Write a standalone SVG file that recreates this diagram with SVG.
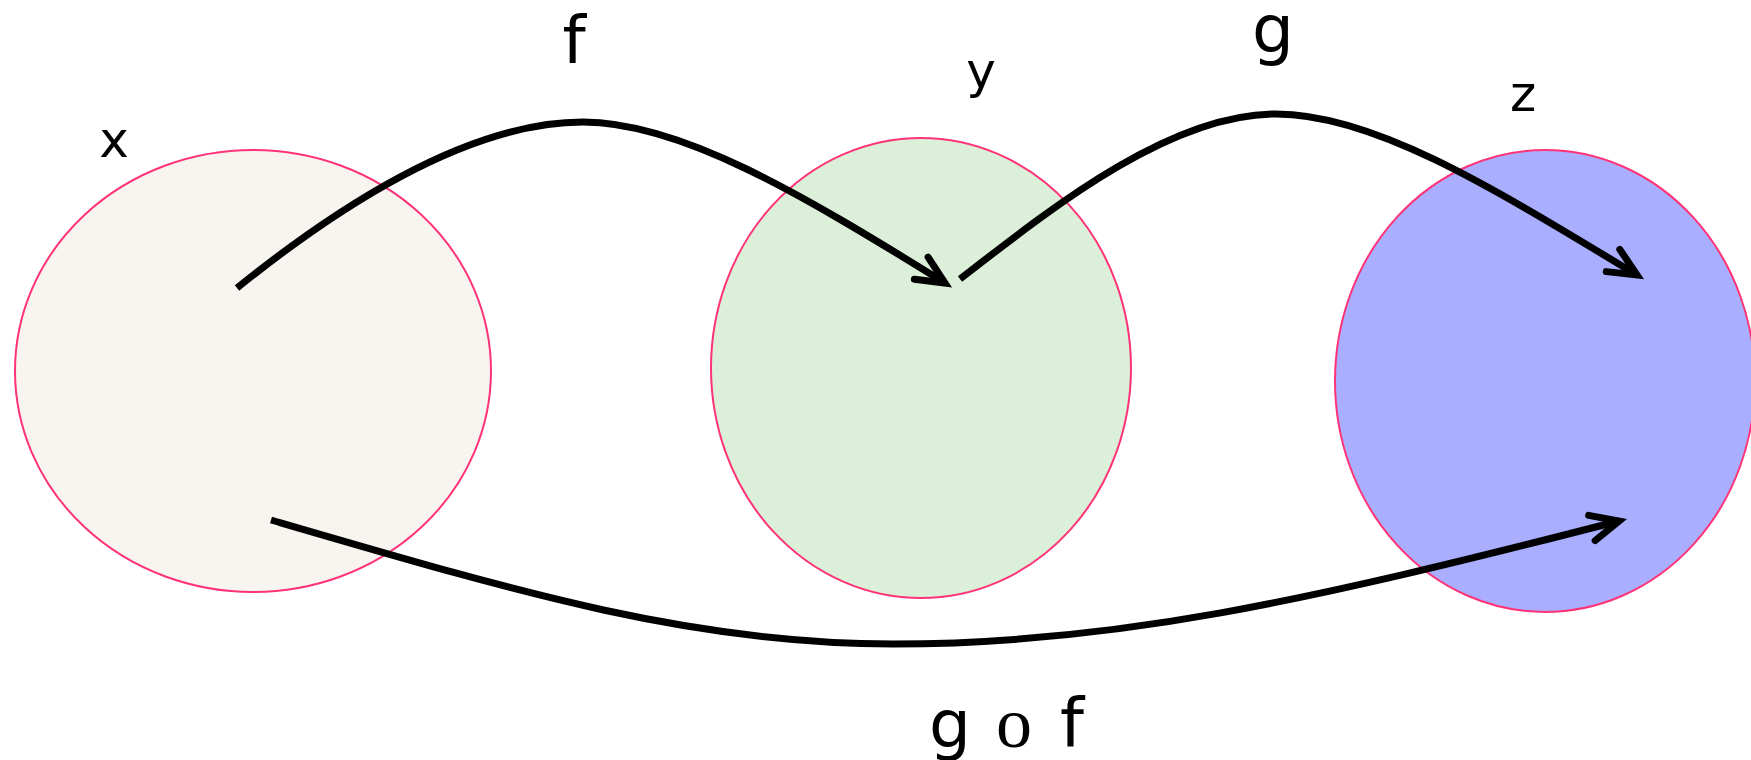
<svg xmlns="http://www.w3.org/2000/svg" width="1751" height="760" viewBox="0 0 1751 760">
  <style>
    .set { stroke: #ff3377; stroke-width: 2; }
    .lbl { font-family: "DejaVu Sans", "Liberation Sans", sans-serif; fill: #000; text-anchor: middle; }
    .small { font-size: 50px; }
    .big { font-size: 66px; }
    .conn { fill: none; stroke: #000; stroke-width: 7; stroke-linecap: butt; }
  </style>
  <defs>
    <marker id="arrow" markerUnits="userSpaceOnUse" markerWidth="40" markerHeight="40" refX="0" refY="0" orient="auto" overflow="visible">
      <path d="M -28 -13 L 0 0 L -28 13" fill="none" stroke="#000" stroke-width="7" stroke-linecap="round" stroke-linejoin="miter"/>
    </marker>
  </defs>
  <rect width="1751" height="760" fill="#ffffff"/>

  <g id="node-x">
    <ellipse class="set" cx="253" cy="371" rx="238" ry="221" fill="#f8f4f0"/>
    <text class="lbl small" x="114" y="157">x</text>
  </g>
  <g id="node-y">
    <ellipse class="set" cx="921" cy="368" rx="210" ry="230" fill="#dcefd8"/>
    <text class="lbl small" x="981" y="88">y</text>
  </g>
  <g id="node-z">
    <ellipse class="set" cx="1545" cy="381" rx="210" ry="231" fill="#aaaeff"/>
    <text class="lbl small" x="1523" y="111">z</text>
  </g>

  <g id="connectors">
    <path class="conn" marker-end="url(#arrow)" d="M 237 288 C 340 205 470 122 583 122 C 680 122 800 193 945 283"/>
    <path class="conn" marker-end="url(#arrow)" d="M 960 279 C 1053 207 1170 114 1276 114 C 1373 114 1490 186 1637 275"/>
    <path class="conn" marker-end="url(#arrow)" d="M 271 520 C 521 593 693 644 893 644 C 1113 644 1305 602 1619 521"/>
  </g>

  <g id="labels">
    <text class="lbl big" x="574" y="63" font-size="68">f</text>
    <text class="lbl big" x="1273" y="52">g</text>
    <text class="lbl big" y="747"><tspan x="950">g</tspan><tspan x="1014" font-size="72" font-family="'Liberation Serif', serif">o</tspan><tspan x="1072" font-size="68">f</tspan></text>
  </g>
</svg>
